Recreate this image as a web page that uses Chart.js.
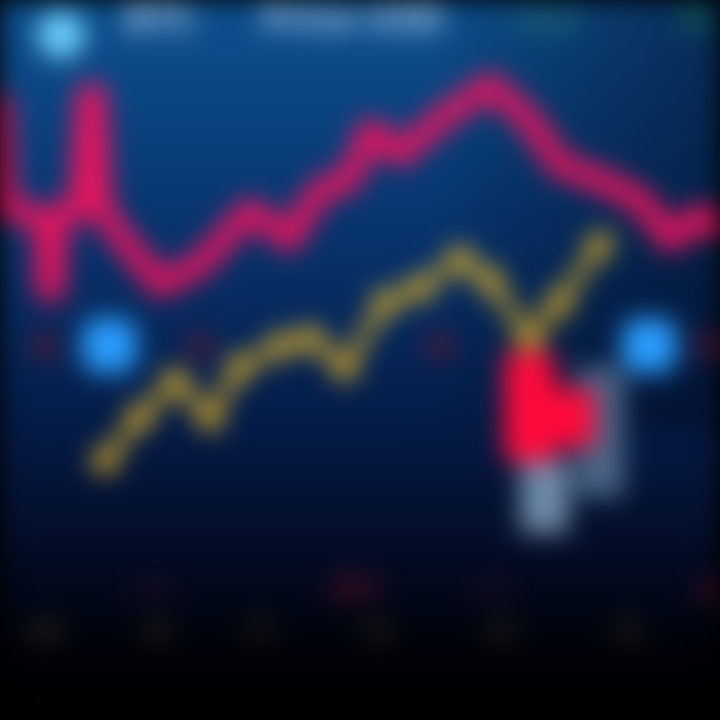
<!DOCTYPE html>
<html>
<head>
<meta charset="utf-8">
<script src="https://cdn.jsdelivr.net/npm/chart.js@4"></script>
<style>
  html, body { margin: 0; padding: 0; background: #000; overflow: hidden; }
  #wrap { position: relative; width: 720px; height: 720px; filter: blur(13px); }
  #c { position: absolute; left: 0; top: 0; }
  .lbl { position: absolute; font-family: "Noto Sans", sans-serif; font-weight: 700; white-space: nowrap; }
</style>
</head>
<body>
<div id="wrap">
  <canvas id="c" width="720" height="720"></canvas>
  <div class="lbl" style="left:28px;top:-52px;font-size:110px;color:#6fd0ff">●</div>
  <div class="lbl" style="left:125px;top:-10px;font-size:38px;color:#b4d2ee">BTC</div>
  <div class="lbl" style="left:262px;top:-10px;font-size:38px;color:#b4d2ee">Price USD</div>
  <div class="lbl" style="left:512px;top:-4px;font-size:32px;color:#2f8070">+2.4</div>
  <div class="lbl" style="left:680px;top:-4px;font-size:32px;color:#1d7a48">%</div>
  <div class="lbl" style="left:125px;top:570px;font-size:24px;color:#3a1530">−0.8</div>
  <div class="lbl" style="left:320px;top:566px;font-size:30px;color:#a0122e">−3.1</div>
  <div class="lbl" style="left:465px;top:570px;font-size:24px;color:#3a1530">−0.5</div>
  <div class="lbl" style="left:688px;top:570px;font-size:28px;color:#8a1028">−2</div>
</div>
<script>
// x in trading days, y in price index
const pinkX = [0, 0.33, 2, 3, 3.2, 3.5, 3.8, 5.3, 5.9, 6.3, 6.7, 7.7, 10.7, 13.3, 16.7, 19.3, 21.3, 23.3, 24.7, 26.7, 29.3, 32.7, 35.3, 37.3, 40, 42.7, 44.7, 46.7, 48];
const pinkY = [86.8, 71.5, 70.1, 69.4, 59.7, 59.7, 70.1, 70.8, 86.8, 86.8, 71.5, 68, 60.4, 63.2, 70.8, 66.7, 73.6, 75, 81.9, 78.5, 83.3, 88.2, 83.3, 77.1, 75, 72.2, 66.7, 70.1, 68];
const goldX = [7, 9.3, 11.7, 14, 16, 18.7, 20.7, 23, 25.7, 28, 30.7, 32.7, 35.3, 37.3, 40];
const goldY = [36, 42, 47, 42, 49, 52, 53, 49, 58, 60, 64, 61, 53, 58, 66];
const markX = [7.3, 43.3];
const markY = [52, 52];
const dotX = [3, 13.3, 29.3, 47.3];
const dotY = [52, 52, 52, 52];
const redBarX = [35.3, 38];
const redBarRange = [[36, 51], [38, 46]];
const greyBarX = [36.3, 40];
const greyBarRange = [[26, 36], [31, 49]];
const tickX = [3, 10.3, 17.3, 25, 33.3, 41.7];
const tickLabels = ['09', '10', '11', '12', '13', '14'];

const pts = (xs, ys) => xs.map((x, i) => ({ x: x, y: ys[i] }));
const bars = (xs, rs) => xs.map((x, i) => ({ x: x, y: rs[i] }));

const bgPlugin = {
  id: 'bg',
  beforeDraw(chart) {
    const { ctx, width, height } = chart;
    const g = ctx.createLinearGradient(0, 0, 0, height);
    g.addColorStop(0, '#0d5090');
    g.addColorStop(0.3, '#073570');
    g.addColorStop(0.6, '#041a45');
    g.addColorStop(0.78, '#020a22');
    g.addColorStop(0.9, '#000208');
    g.addColorStop(1, '#000');
    ctx.save();
    ctx.fillStyle = g;
    ctx.fillRect(0, 0, width, height);
    const h = ctx.createLinearGradient(0, 0, width, 0);
    h.addColorStop(0, 'rgba(0,0,0,0)');
    h.addColorStop(0.6, 'rgba(0,0,0,0)');
    h.addColorStop(1, 'rgba(0,5,25,0.45)');
    ctx.fillStyle = h;
    ctx.fillRect(0, 0, width, height * 0.6);
    ctx.restore();
  }
};

const tickPlugin = {
  id: 'ticks',
  afterDraw(chart) {
    const { ctx } = chart;
    const xs = chart.scales.x;
    ctx.save();
    ctx.font = 'bold 28px "Noto Sans"';
    ctx.fillStyle = '#3d3322';
    ctx.textAlign = 'center';
    tickX.forEach((v, i) => ctx.fillText(tickLabels[i], xs.getPixelForValue(v), 642));
    ctx.restore();
  }
};

new Chart(document.getElementById('c'), {
  data: {
    datasets: [
      {
        type: 'bar',
        data: bars(greyBarX, greyBarRange),
        backgroundColor: ['#6f8aa8', '#4a6485'],
        barThickness: 48,
        grouped: false,
        order: 5
      },
      {
        type: 'bar',
        data: bars(redBarX, redBarRange),
        backgroundColor: '#ff0a3c',
        barThickness: 50,
        grouped: false,
        order: 4
      },
      {
        type: 'line',
        data: pts(pinkX, pinkY),
        borderColor: '#e6145e',
        borderWidth: 24,
        borderJoinStyle: 'round',
        pointRadius: 0,
        tension: 0,
        order: 1
      },
      {
        type: 'line',
        data: pts(goldX, goldY),
        borderColor: '#c9a12a',
        borderWidth: 12,
        pointRadius: 13,
        pointBackgroundColor: '#d4a82c',
        pointBorderWidth: 0,
        tension: 0,
        order: 2
      },
      {
        type: 'scatter',
        data: pts(markX, markY),
        backgroundColor: '#2a9dff',
        pointStyle: 'rectRounded',
        pointRadius: 32,
        order: 3
      },
      {
        type: 'scatter',
        data: pts(dotX, dotY),
        backgroundColor: '#4a1a3a',
        pointRadius: 14,
        order: 3
      }
    ]
  },
  options: {
    responsive: false,
    animation: false,
    layout: { padding: 0, autoPadding: false },
    plugins: { legend: { display: false }, tooltip: { enabled: false } },
    scales: {
      x: { type: 'linear', min: 0, max: 48, offset: false, display: false },
      y: { type: 'linear', min: 0, max: 100, display: false }
    }
  },
  plugins: [bgPlugin, tickPlugin]
});
</script>
</body>
</html>
